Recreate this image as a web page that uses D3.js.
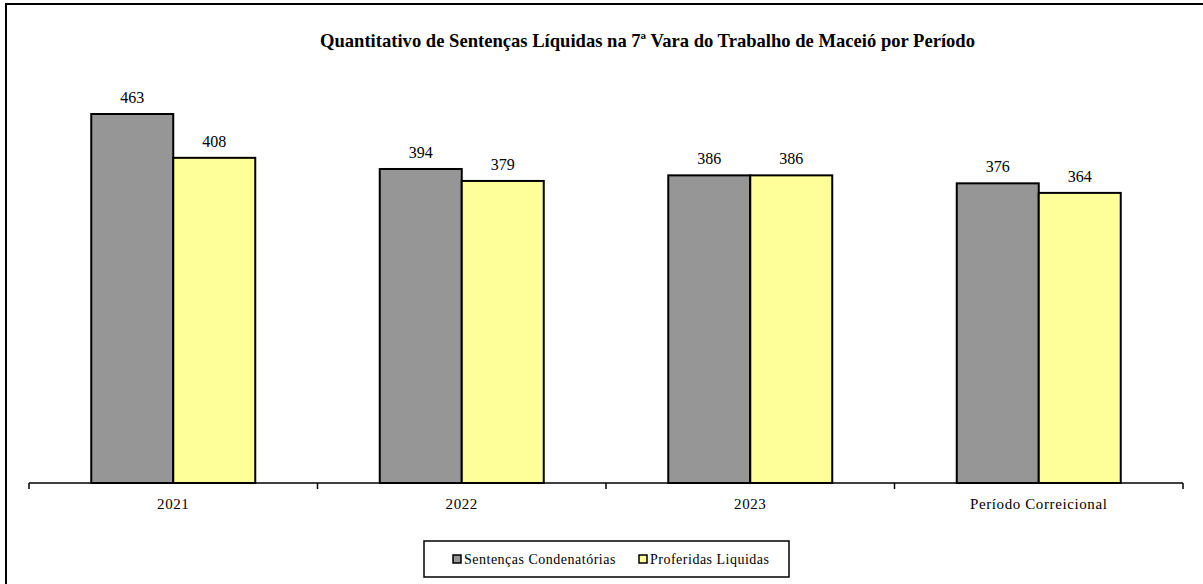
<!DOCTYPE html>
<html>
<head>
<meta charset="utf-8">
<script src="https://cdn.jsdelivr.net/npm/d3@7"></script>
<style>
	body { margin: 0; background: #fff; }
</style>
</head>
<body>
<svg width="1203" height="584" font-family="'Liberation Serif', 'Times New Roman', Times, serif"></svg>
<script>
const categories = ["2021", "2022", "2023", "Período Correicional"];
const condenatorias = [463, 394, 386, 376];
const liquidas = [408, 379, 386, 364];
const seriesNames = ["Sentenças Condenatórias", "Proferidas Liquidas"];
const seriesColors = ["#969696", "#ffff99"];

const svg = d3.select("svg");

// outer chart border (runs off the right/bottom edge)
svg.append("rect")
	.attr("x", 6).attr("y", 4)
	.attr("width", 1300).attr("height", 700)
	.attr("fill", "none")
	.attr("stroke", "#000")
	.attr("stroke-width", 2);

svg.append("text")
	.attr("x", 320).attr("y", 47)
	.attr("font-size", 19)
	.attr("font-weight", "bold")
	.attr("textLength", 655)
	.attr("lengthAdjust", "spacingAndGlyphs")
	.text("Quantitativo de Sentenças Líquidas na 7ª Vara do Trabalho de Maceió por Período");

const x = d3.scaleBand()
	.domain(categories)
	.range([29, 1183])
	.paddingInner(0)
	.paddingOuter(0);

const y = d3.scaleLinear()
	.domain([0, 463])
	.range([483, 114]);

const barW = 82;

const rows = categories.map((c, i) => ({ cat: c, vals: [condenatorias[i], liquidas[i]] }));

const groups = svg.append("g")
	.selectAll("g")
	.data(rows)
	.enter().append("g")
	.attr("transform", d => `translate(${x(d.cat) + x.bandwidth() / 2},0)`);

groups.selectAll("rect")
	.data(d => d.vals)
	.enter().append("rect")
	.attr("x", (d, i) => (i - 1) * barW)
	.attr("y", d => y(d))
	.attr("width", barW)
	.attr("height", d => y(0) - y(d))
	.attr("fill", (d, i) => seriesColors[i])
	.attr("stroke", "#000")
	.attr("stroke-width", 2);

groups.selectAll("text")
	.data(d => d.vals)
	.enter().append("text")
	.attr("x", (d, i) => (i - 0.5) * barW)
	.attr("y", d => y(d) - 11)
	.attr("text-anchor", "middle")
	.attr("font-size", 16)
	.text(d => d);

// x axis with ticks between categories
const axis = svg.append("g");
axis.append("line")
	.attr("x1", 29).attr("x2", 1183)
	.attr("y1", 483).attr("y2", 483)
	.attr("stroke", "#000").attr("stroke-width", 1.5);

const tickPos = categories.map(c => x(c)).concat([x.range()[1]]);
axis.selectAll("line.tick")
	.data(tickPos)
	.enter().append("line")
	.attr("class", "tick")
	.attr("x1", d => d).attr("x2", d => d)
	.attr("y1", 483).attr("y2", 489)
	.attr("stroke", "#000").attr("stroke-width", 1.5);

axis.selectAll("text")
	.data(categories)
	.enter().append("text")
	.attr("x", d => x(d) + x.bandwidth() / 2)
	.attr("y", 509)
	.attr("text-anchor", "middle")
	.attr("font-size", 15)
	.attr("letter-spacing", 0.6)
	.text(d => d);

// legend
const legend = svg.append("g");
legend.append("rect")
	.attr("x", 424).attr("y", 541)
	.attr("width", 365).attr("height", 36)
	.attr("fill", "#fff")
	.attr("stroke", "#000")
	.attr("stroke-width", 1.5);

const legX = [453, 639];
seriesNames.forEach((name, i) => {
	legend.append("rect")
		.attr("x", legX[i]).attr("y", 555)
		.attr("width", 8).attr("height", 8)
		.attr("fill", seriesColors[i])
		.attr("stroke", "#000")
		.attr("stroke-width", 1.5);
	legend.append("text")
		.attr("x", legX[i] + 11).attr("y", 564)
		.attr("font-size", 14)
		.attr("letter-spacing", 0.5)
		.text(name);
});
</script>
</body>
</html>
